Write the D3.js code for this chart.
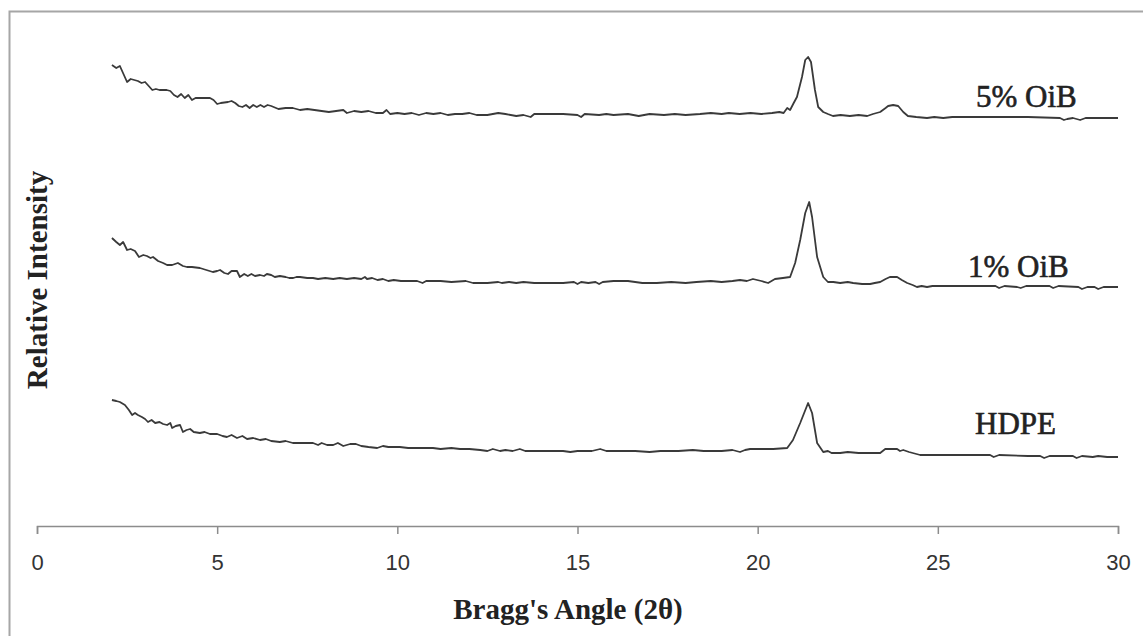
<!DOCTYPE html>
<head>
  <meta charset="utf-8">
  <title>XRD patterns</title>
  <style>
    body { margin: 0; background: #fff; }
    .tick text { font-family: "Liberation Sans", Arial, sans-serif; font-size: 22px; fill: #333; }
    .lbl { font-family: "Liberation Serif", "Times New Roman", serif; fill: #222; }
  </style>
</head>
<body>
<svg width="1143" height="636"></svg>

<script src="https://d3js.org/d3.v7.min.js"></script>
<script>

  // [2θ (deg), relative intensity (arb. units, stacked as plotted)]
  const oib5 = [[2.08,922],[2.2,916],[2.3,920],[2.4,904],[2.5,888],[2.6,894],[2.7,892],[2.8,890],[2.9,886],[3.0,888],[3.1,880],[3.2,872],[3.3,874],[3.4,872],[3.6,872],[3.7,870],[3.8,862],[3.9,858],[4.0,864],[4.1,856],[4.2,862],[4.3,852],[4.4,856],[4.6,856],[4.8,856],[4.9,852],[5.0,844],[5.1,846],[5.3,848],[5.4,850],[5.5,846],[5.6,840],[5.7,838],[5.8,842],[5.9,836],[6.0,842],[6.1,838],[6.2,842],[6.3,838],[6.4,842],[6.5,840],[6.7,834],[6.9,836],[7.1,836],[7.3,832],[7.5,834],[7.7,832],[7.9,830],[8.1,828],[8.3,830],[8.5,832],[8.6,826],[8.8,830],[9.0,828],[9.2,830],[9.4,826],[9.6,826],[9.7,832],[9.8,824],[10.0,826],[10.2,824],[10.4,826],[10.6,822],[10.8,826],[11.0,824],[11.2,826],[11.4,822],[11.6,824],[11.8,824],[12.0,826],[12.2,822],[12.5,822],[12.8,826],[13.0,824],[13.3,820],[13.5,822],[13.7,818],[13.8,824],[14.2,824],[14.6,824],[15.0,822],[15.1,818],[15.2,824],[15.6,822],[15.8,824],[16.0,822],[16.4,824],[16.7,820],[17.0,824],[17.4,822],[17.7,824],[18.0,822],[18.4,824],[18.7,826],[19.0,824],[19.2,826],[19.5,824],[19.8,826],[20.1,824],[20.4,826],[20.6,828],[20.72,826],[20.82,836],[20.9,832],[21.0,846],[21.09,858],[21.23,898],[21.32,932],[21.4,938],[21.48,928],[21.59,872],[21.68,838],[21.82,828],[21.95,824],[22.09,820],[22.3,822],[22.56,820],[22.8,822],[23.04,820],[23.2,824],[23.4,828],[23.55,836],[23.62,840],[23.76,842],[23.9,840],[24.04,828],[24.17,820],[24.4,818],[24.7,816],[24.9,818],[25.15,816],[25.4,818],[25.7,818],[26.5,818],[27.5,818],[28.39,816],[28.5,812],[28.59,814],[28.75,816],[28.95,812],[29.1,816],[30.0,816]];

  const oib1 = [[2.08,576],[2.2,568],[2.3,562],[2.39,568],[2.5,552],[2.6,554],[2.72,550],[2.83,538],[2.95,542],[3.05,540],[3.15,536],[3.22,538],[3.36,530],[3.5,526],[3.61,522],[3.75,522],[3.91,526],[4.05,520],[4.16,518],[4.3,518],[4.52,516],[4.7,512],[4.88,508],[5.0,510],[5.08,512],[5.2,506],[5.3,504],[5.4,510],[5.55,510],[5.63,498],[5.75,504],[5.85,500],[5.95,504],[6.05,500],[6.19,502],[6.3,500],[6.38,504],[6.5,502],[6.6,498],[6.74,500],[6.9,498],[7.0,496],[7.11,496],[7.2,498],[7.3,498],[7.5,496],[7.66,496],[7.8,494],[8.0,496],[8.22,494],[8.4,496],[8.6,494],[8.8,496],[9.0,494],[9.1,498],[9.16,494],[9.3,496],[9.45,492],[9.6,494],[9.75,490],[9.9,492],[10.1,490],[10.3,490],[10.55,490],[10.7,486],[10.8,490],[11.2,490],[11.5,488],[11.9,490],[12.1,486],[12.5,486],[12.8,488],[12.9,486],[13.1,488],[13.3,486],[13.5,488],[13.8,486],[14.2,486],[14.6,486],[14.9,488],[15.0,484],[15.1,488],[15.3,486],[15.5,488],[15.6,484],[15.7,488],[16.0,490],[16.4,490],[16.8,486],[17.2,486],[17.6,488],[18.0,486],[18.3,488],[18.7,490],[19.0,488],[19.3,490],[19.51,492],[19.7,490],[19.87,494],[20.1,490],[20.29,486],[20.48,494],[20.7,496],[20.9,498],[21.04,526],[21.18,572],[21.32,626],[21.43,648],[21.51,618],[21.65,538],[21.82,498],[21.95,488],[22.1,488],[22.29,486],[22.5,488],[22.65,486],[22.9,484],[23.12,484],[23.25,486],[23.4,488],[23.55,494],[23.67,498],[23.87,498],[24.0,492],[24.15,486],[24.3,482],[24.42,478],[24.55,480],[24.7,478],[24.85,480],[25.06,480],[25.5,480],[26.0,480],[26.6,480],[26.7,476],[26.85,480],[27.2,478],[27.3,476],[27.45,480],[28.1,480],[28.2,476],[28.35,480],[28.9,478],[29.0,474],[29.15,478],[29.35,478],[29.45,474],[29.6,478],[30.0,478]];

  const hdpe = [[2.08,252],[2.2,250],[2.3,248],[2.44,242],[2.55,232],[2.64,222],[2.72,226],[2.8,222],[2.91,218],[3.0,214],[3.08,208],[3.18,212],[3.28,206],[3.4,208],[3.5,204],[3.61,202],[3.7,206],[3.75,196],[3.85,200],[3.97,202],[4.05,188],[4.15,192],[4.25,194],[4.35,188],[4.52,186],[4.65,188],[4.8,184],[5.0,184],[5.15,180],[5.27,178],[5.4,182],[5.55,176],[5.7,180],[5.83,174],[6.0,176],[6.19,172],[6.35,174],[6.5,170],[6.74,168],[6.9,170],[7.1,166],[7.3,166],[7.5,166],[7.66,166],[7.8,162],[7.9,166],[8.05,162],[8.22,162],[8.35,166],[8.5,160],[8.69,164],[8.85,164],[9.0,160],[9.2,158],[9.44,156],[9.6,160],[9.75,158],[10.07,158],[10.3,156],[10.6,156],[10.99,156],[11.2,154],[11.5,156],[11.74,154],[12.0,154],[12.3,152],[12.5,150],[12.65,154],[12.85,150],[13.0,152],[13.2,150],[13.4,154],[13.55,150],[13.77,150],[14.2,150],[14.6,150],[14.8,148],[15.0,150],[15.4,150],[15.63,154],[15.8,150],[16.18,150],[16.6,150],[17.0,148],[17.3,150],[17.8,150],[18.2,152],[18.5,150],[19.0,150],[19.3,152],[19.51,148],[19.65,152],[19.79,154],[20.1,154],[20.43,154],[20.82,156],[20.98,172],[21.18,206],[21.4,246],[21.51,226],[21.65,166],[21.82,148],[21.95,150],[22.05,146],[22.29,146],[22.5,148],[22.8,146],[23.1,146],[23.4,146],[23.54,154],[23.7,154],[23.87,154],[23.95,150],[24.04,152],[24.2,148],[24.51,142],[25.0,142],[25.5,142],[26.0,142],[26.45,142],[26.55,138],[26.7,142],[27.5,140],[27.84,140],[27.95,136],[28.1,140],[28.75,140],[28.85,136],[29.0,140],[29.3,138],[29.45,140],[29.7,138],[30.0,138]];

  const seriesNames = ["5% OiB", "1% OiB", "HDPE"];
  const xTicks = [0, 5, 10, 15, 20, 25, 30];

  const series = [
    { name: seriesNames[0], data: oib5, lx: 976, ly: 107 },
    { name: seriesNames[1], data: oib1, lx: 968, ly: 277 },
    { name: seriesNames[2], data: hdpe, lx: 975, ly: 434 }
  ];

  let svg = d3.select("svg");

  // outer chart frame
  svg.append("rect")
    .attr("x", 9.5).attr("y", 11.5)
    .attr("width", 1300).attr("height", 800)
    .attr("fill", "none").attr("stroke", "#a6a6a6").attr("stroke-width", 2);

  const x = d3.scaleLinear().domain([0, 30]).range([37, 1118]);
  const y = d3.scaleLinear().domain([0, 1000]).range([526, 26]);

  const xAxis = svg.append("g")
    .attr("transform", "translate(0,526)")
    .call(d3.axisBottom(x).tickValues(xTicks).tickSize(8).tickPadding(20).tickFormat(d3.format("d")));
  xAxis.select(".domain").attr("stroke", "#8c8c8c").attr("stroke-width", 1.5);
  xAxis.selectAll(".tick line").attr("stroke", "#8c8c8c").attr("stroke-width", 1.5);

  const line = d3.line()
    .x(d => x(d[0]))
    .y(d => y(d[1]));

  series.forEach(s => {
    svg.append("path")
      .datum(s.data)
      .attr("d", line)
      .attr("fill", "none")
      .attr("stroke", "#3a3a3a")
      .attr("stroke-width", 1.8)
      .attr("stroke-linejoin", "round");

    // series label, slightly heavier than regular like the original
    svg.append("text")
      .attr("class", "lbl")
      .attr("x", s.lx).attr("y", s.ly)
      .style("font-size", "31px")
      .attr("stroke", "#222").attr("stroke-width", 0.6)
      .text(s.name);
  });

  svg.append("text")
    .attr("class", "lbl")
    .attr("x", 568).attr("y", 619)
    .attr("text-anchor", "middle")
    .style("font-size", "29px")
    .style("font-weight", "bold")
    .text("Bragg's Angle (2θ)");

  svg.append("text")
    .attr("class", "lbl")
    .attr("transform", "translate(47,280) rotate(-90)")
    .attr("text-anchor", "middle")
    .style("font-size", "29px")
    .style("font-weight", "bold")
    .text("Relative Intensity");

</script>
</body>
